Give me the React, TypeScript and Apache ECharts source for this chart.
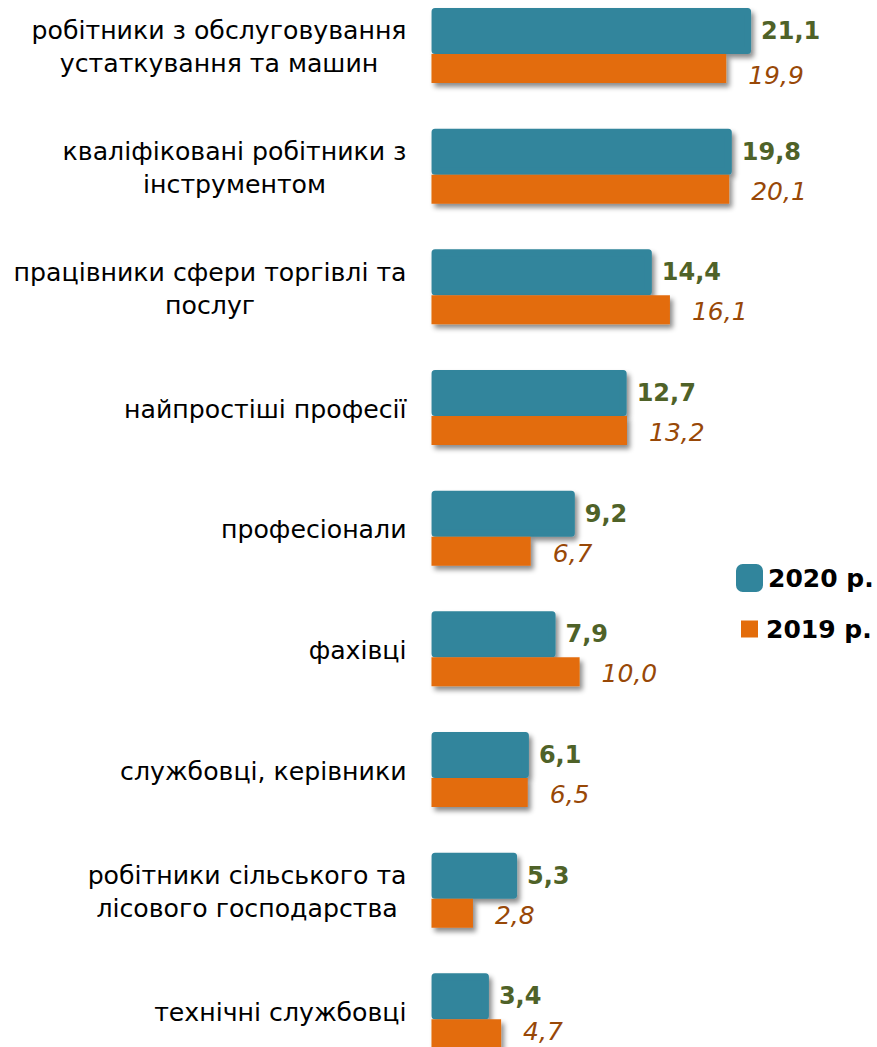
import React, { useEffect, useRef } from "react";
import * as echarts from "echarts";

const categories = [
  "робітники з обслуговування\nустаткування та машин",
  "кваліфіковані робітники з\nінструментом",
  "працівники сфери торгівлі та\nпослуг",
  "найпростіші професії",
  "професіонали",
  "фахівці",
  "службовці, керівники",
  "робітники сільського та\nлісового господарства",
  "технічні службовці",
];
const values2020 = [21.1, 19.8, 14.4, 12.7, 9.2, 7.9, 6.1, 5.3, 3.4];
const values2019 = [19.9, 20.1, 16.1, 13.2, 6.7, 10.0, 6.5, 2.8, 4.7];
const seriesNames = ["2020 р.", "2019 р."];

const TEAL = "#31859C";
const ORANGE = "#E36C0A";
const FONT = "DejaVu Sans";
const SHIFT = 20; // chart canvas extends above the visible page

const fmt = (v: number) => v.toFixed(1).replace(".", ",");

export default function App() {
  const ref = useRef<HTMLDivElement>(null);
  useEffect(() => {
    if (!ref.current) return;
    const chart = echarts.init(ref.current, undefined, { renderer: "svg" });
    const shadow = {
      shadowColor: "rgba(0,0,0,0.45)",
      shadowBlur: 5,
      shadowOffsetX: 3,
      shadowOffsetY: 4,
    };

    const tealRender = (params: any, api: any) => {
      const v = api.value(0);
      const cat = api.value(1);
      const s = api.coord([0, cat]);
      const e = api.coord([v, cat]);
      const c = s[1];
      const bw = 7;
      return {
        type: "rect",
        shape: { x: s[0], y: c - 39.25 + bw / 2, width: e[0] - s[0], height: 46 - bw },
        style: {
          fill: TEAL,
          stroke: TEAL,
          lineWidth: bw,
          lineJoin: "round",
          ...shadow,
        },
        textContent: {
          style: {
            text: fmt(v),
            fill: "#4F6228",
            fontFamily: FONT,
            fontWeight: "bold",
            fontSize: 24,
          },
        },
        textConfig: { position: "right", distance: 10 },
      };
    };

    const lastIndex = values2019.length - 1;
    const orangeRender = (params: any, api: any) => {
      const v = api.value(0);
      const cat = api.value(1);
      const s = api.coord([0, cat]);
      const e = api.coord([v, cat]);
      const c = s[1];
      const i = params.dataIndex;
      return {
        type: "rect",
        shape: { x: s[0], y: c + 6.75, width: e[0] - s[0], height: 29 },
        style: { fill: ORANGE, ...shadow },
        textContent: {
          style: {
            text: fmt(v),
            fill: "#984807",
            fontFamily: FONT,
            fontStyle: "italic",
            fontSize: 25,
          },
        },
        textConfig: {
          position: "right",
          distance: 22,
          offset: [0, i === 0 ? 7 : i === lastIndex ? -2 : 2],
        },
      };
    };

    chart.setOption({
      animation: false,
      backgroundColor: "#fff",
      grid: { left: 431.5, right: 1.2, top: SHIFT - 13.1, height: 1086, containLabel: false },
      xAxis: [
        { type: "value", min: 0, max: 30, show: false },
        { type: "value", min: -0.24, max: 29.76, show: false },
      ],
      yAxis: {
        type: "category",
        inverse: true,
        data: categories,
        axisLine: { show: false },
        axisTick: { show: false },
        splitLine: { show: false },
        axisLabel: {
          interval: 0,
          margin: 25,
          formatter: (v: string) =>
            v
              .split("\n")
              .map((l) => `{c|${l}}`)
              .join("\n"),
          rich: {
            c: {
              align: "center",
              fontFamily: FONT,
              fontSize: 25.2,
              color: "#000",
              lineHeight: 33,
            },
          },
        },
      },
      legend: [
        {
          data: [seriesNames[0]],
          left: 731,
          top: SHIFT + 559,
          itemWidth: 27,
          itemHeight: 28,
          icon: "roundRect",
          selectedMode: false,
          itemStyle: { color: TEAL, borderWidth: 0, shadowBlur: 0 },
          textStyle: { fontFamily: FONT, fontWeight: "bold", fontSize: 25, color: "#000" },
        },
        {
          data: [seriesNames[1]],
          left: 736,
          top: SHIFT + 611.5,
          itemWidth: 17,
          itemHeight: 17,
          icon: "rect",
          selectedMode: false,
          itemStyle: { color: ORANGE, borderWidth: 0, shadowBlur: 0 },
          textStyle: {
            fontFamily: FONT,
            fontWeight: "bold",
            fontSize: 25,
            color: "#000",
            padding: [0, 0, 0, 3],
          },
        },
      ],
      series: [
        {
          name: seriesNames[0],
          type: "custom",
          xAxisIndex: 1,
          yAxisIndex: 0,
          itemStyle: { color: TEAL },
          encode: { x: 0, y: 1 },
          data: values2020.map((v, i) => [v, i]),
          renderItem: tealRender,
        },
        {
          name: seriesNames[1],
          type: "custom",
          xAxisIndex: 0,
          yAxisIndex: 0,
          itemStyle: { color: ORANGE },
          encode: { x: 0, y: 1 },
          data: values2019.map((v, i) => [v, i]),
          renderItem: orangeRender,
        },
      ],
    });
    return () => chart.dispose();
  }, []);
  return (
    <div
      style={{
        position: "absolute",
        left: 0,
        top: 0,
        width: 877,
        height: 1047,
        overflow: "hidden",
        background: "#fff",
      }}
    >
      <div
        ref={ref}
        style={{ position: "absolute", left: 0, top: -SHIFT, width: 877, height: 1110 }}
      />
    </div>
  );
}
